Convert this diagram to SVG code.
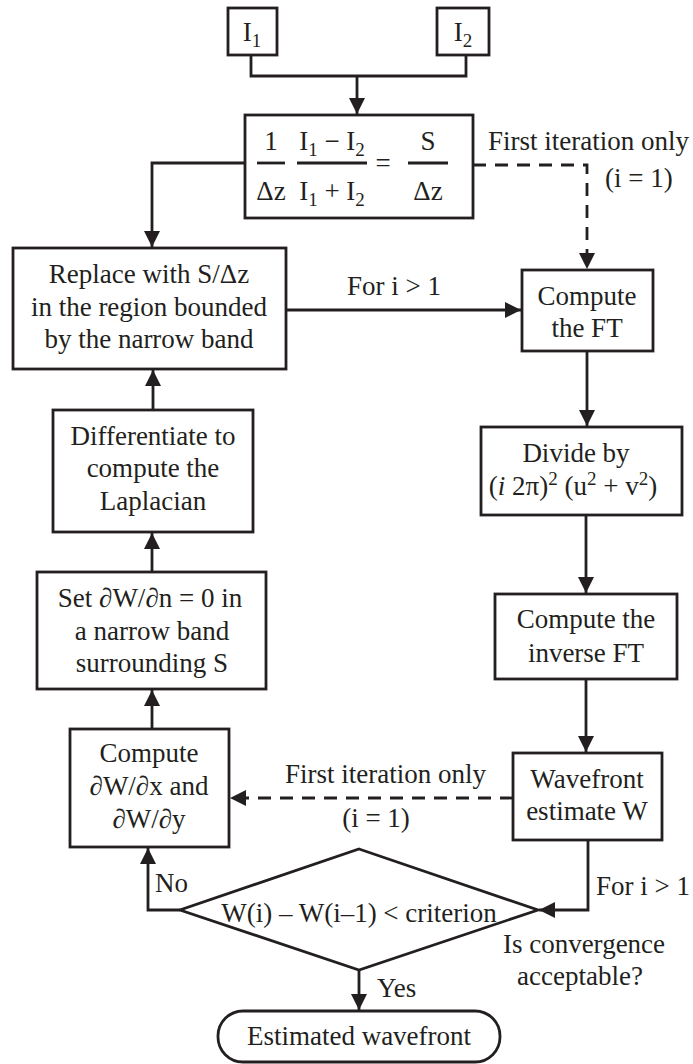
<svg xmlns="http://www.w3.org/2000/svg" width="693" height="1064" viewBox="0 0 693 1064">
<style>
  text { font-family: "Liberation Serif", "Times New Roman", serif; font-size: 27px; fill: #231f20; }
  .c { text-anchor: middle; }
  .box { fill: #ffffff; stroke: #231f20; stroke-width: 2.8; }
  .ln { fill: none; stroke: #231f20; stroke-width: 2.8; }
  .dash { fill: none; stroke: #231f20; stroke-width: 2.8; stroke-dasharray: 13 9; }
  .sub { font-size: 19px; }
</style>
<defs>
  <marker id="ah" markerUnits="userSpaceOnUse" markerWidth="17" markerHeight="17" refX="16" refY="8" orient="auto">
    <path d="M0,0 L16,8 L0,16 z" fill="#231f20"/>
  </marker>
</defs>
<rect width="693" height="1064" fill="#ffffff"/>

<g id="connectors">
  <path class="ln" d="M251,55 V76 H466 V55"/>
  <path class="ln" d="M357,76 V114" marker-end="url(#ah)"/>
  <path class="ln" d="M245,163 H152 V247" marker-end="url(#ah)"/>
  <path class="dash" d="M473,165 H587 V269" marker-end="url(#ah)"/>
  <path class="ln" d="M286,310 H521" marker-end="url(#ah)"/>
  <path class="ln" d="M587,351 V426" marker-end="url(#ah)"/>
  <path class="ln" d="M586,515 V593" marker-end="url(#ah)"/>
  <path class="ln" d="M586,679 V752" marker-end="url(#ah)"/>
  <path class="dash" d="M513,798 H230" marker-end="url(#ah)"/>
  <path class="ln" d="M588,840 V910 H539" marker-end="url(#ah)"/>
  <path class="ln" d="M180,910 H148 V848" marker-end="url(#ah)"/>
  <path class="ln" d="M152,729 V690" marker-end="url(#ah)"/>
  <path class="ln" d="M152,572 V533" marker-end="url(#ah)"/>
  <path class="ln" d="M153,410 V370" marker-end="url(#ah)"/>
  <path class="ln" d="M359,970 V1010" marker-end="url(#ah)"/>
  <text class="c" x="394" y="295">For i &gt; 1</text>
  <text x="488" y="150">First iteration only</text>
  <text x="605" y="187">(i = 1)</text>
  <text x="285" y="783">First iteration only</text>
  <text class="c" x="376" y="827">(i = 1)</text>
  <text x="155" y="892">No</text>
  <text x="377" y="997">Yes</text>
  <text x="596" y="895">For i &gt; 1</text>
  <text class="c" x="584" y="953">Is convergence</text>
  <text class="c" x="580" y="985">acceptable?</text>
</g>

<g id="node-i1">
  <rect class="box" x="228" y="8" width="49" height="47"/>
  <text class="c" x="252" y="41">I<tspan class="sub" dy="6">1</tspan></text>
</g>
<g id="node-i2">
  <rect class="box" x="437" y="8" width="52" height="47"/>
  <text class="c" x="463" y="41">I<tspan class="sub" dy="6">2</tspan></text>
</g>

<g id="node-equation">
  <rect class="box" x="245" y="115" width="228" height="103"/>
  <text class="c" x="271" y="150">1</text>
  <line class="ln" x1="257" y1="163" x2="285" y2="163"/>
  <text class="c" x="271" y="200">Δz</text>
  <text class="c" x="332" y="150">I<tspan class="sub" dy="6">1</tspan><tspan dy="-6"> − I</tspan><tspan class="sub" dy="6">2</tspan></text>
  <line class="ln" x1="297" y1="163" x2="367" y2="163"/>
  <text class="c" x="332" y="200">I<tspan class="sub" dy="6">1</tspan><tspan dy="-6"> + I</tspan><tspan class="sub" dy="6">2</tspan></text>
  <text class="c" x="383" y="172">=</text>
  <text class="c" x="428" y="150">S</text>
  <line class="ln" x1="408" y1="163" x2="448" y2="163"/>
  <text class="c" x="428" y="200">Δz</text>
</g>

<g id="node-replace">
  <rect class="box" x="13" y="248" width="273" height="121"/>
  <text class="c" x="149" y="283">Replace with S/Δz</text>
  <text class="c" x="149" y="316">in the region bounded</text>
  <text class="c" x="149" y="348">by the narrow band</text>
</g>

<g id="node-differentiate">
  <rect class="box" x="53" y="410" width="200" height="122"/>
  <text class="c" x="153" y="445">Differentiate to</text>
  <text class="c" x="153" y="477">compute the</text>
  <text class="c" x="153" y="510">Laplacian</text>
</g>

<g id="node-set">
  <rect class="box" x="37" y="572" width="229" height="117"/>
  <text class="c" x="150" y="607">Set ∂W/∂n = 0 in</text>
  <text class="c" x="152" y="640">a narrow band</text>
  <text class="c" x="152" y="672">surrounding S</text>
</g>

<g id="node-derivs">
  <rect class="box" x="70" y="729" width="159" height="118"/>
  <text class="c" x="149" y="762">Compute</text>
  <text class="c" x="149" y="795">∂W/∂x  and</text>
  <text class="c" x="149" y="828">∂W/∂y</text>
</g>

<g id="node-ft">
  <rect class="box" x="522" y="270" width="131" height="81"/>
  <text class="c" x="587" y="305">Compute</text>
  <text class="c" x="587" y="337">the FT</text>
</g>

<g id="node-divide">
  <rect class="box" x="481" y="427" width="201" height="88"/>
  <text class="c" x="576" y="462">Divide by</text>
  <text class="c" x="573" y="495">(<tspan font-style="italic">i</tspan> 2π)<tspan class="sub" dy="-10">2</tspan><tspan dy="10"> (u</tspan><tspan class="sub" dy="-10">2</tspan><tspan dy="10"> + v</tspan><tspan class="sub" dy="-10">2</tspan><tspan dy="10">)</tspan></text>
</g>

<g id="node-inverse">
  <rect class="box" x="495" y="594" width="182" height="85"/>
  <text class="c" x="586" y="628">Compute the</text>
  <text class="c" x="586" y="662">inverse FT</text>
</g>

<g id="node-wavefront">
  <rect class="box" x="513" y="753" width="149" height="87"/>
  <text class="c" x="587" y="788">Wavefront</text>
  <text class="c" x="587" y="820">estimate W</text>
</g>

<g id="node-decision">
  <polygon class="box" points="359,849 538,910 359,970 180,910"/>
  <text class="c" x="359" y="922">W(i) – W(i–1) &lt; criterion</text>
</g>

<g id="node-end">
  <rect class="box" x="218" y="1011" width="282" height="51" rx="25" ry="25"/>
  <text class="c" x="359" y="1045">Estimated wavefront</text>
</g>
</svg>
